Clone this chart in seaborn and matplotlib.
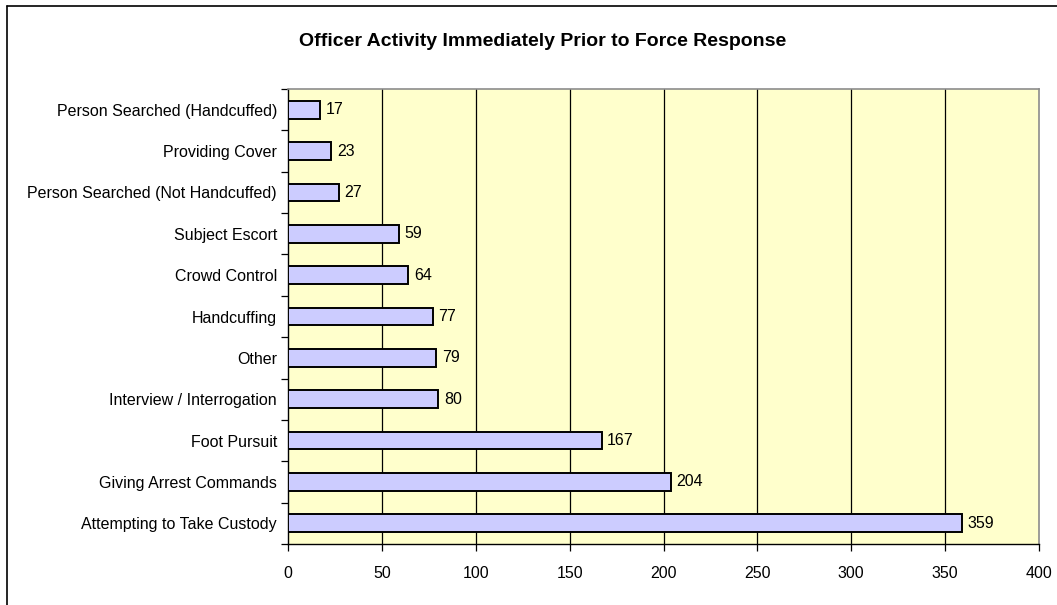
import matplotlib
matplotlib.use("Agg")
import matplotlib.pyplot as plt
import seaborn as sns

# Data (top to bottom)
activities = [
    "Person Searched (Handcuffed)",
    "Providing Cover",
    "Person Searched (Not Handcuffed)",
    "Subject Escort",
    "Crowd Control",
    "Handcuffing",
    "Other",
    "Interview / Interrogation",
    "Foot Pursuit",
    "Giving Arrest Commands",
    "Attempting to Take Custody",
]
counts = [17, 23, 27, 59, 64, 77, 79, 80, 167, 204, 359]
x_ticks = [0, 50, 100, 150, 200, 250, 300, 350, 400]

sns.set_style("white")
plt.rcParams["font.family"] = ["Liberation Sans", "DejaVu Sans"]
plt.rcParams["text.color"] = "black"
plt.rcParams["xtick.labelcolor"] = "black"
plt.rcParams["ytick.labelcolor"] = "black"

fig = plt.figure(figsize=(10.57, 6.05), dpi=100)
ax = fig.add_axes([288 / 1057, 61 / 605, 751 / 1057, 455 / 605])
ax.set_facecolor("#FFFFCC")

sns.barplot(
    x=counts,
    y=activities,
    orient="h",
    color="#CCCCFF",
    saturation=1,
    edgecolor="black",
    linewidth=1.4,
    width=0.43,
    ax=ax,
    zorder=3,
)

# value labels
for i, v in enumerate(counts):
    ax.text(v + 3, i, str(v), va="center", ha="left", fontsize=11.5, zorder=4)

ax.set_xlim(0, 400)
ax.set_ylim(len(activities) - 0.5, -0.5)
ax.set_xticks(x_ticks)
ax.set_xticklabels([str(t) for t in x_ticks], fontsize=11.5)
for t in x_ticks[1:-1]:
    ax.axvline(t, color="black", linewidth=0.9, zorder=1)

# category ticks sit between bars, like Excel
ax.set_yticks(range(len(activities)))
ax.set_yticklabels(activities, fontsize=11.5)
ax.set_yticks([i - 0.5 for i in range(len(activities) + 1)], minor=True)
ax.tick_params(axis="y", which="major", length=0, pad=8)
ax.tick_params(axis="y", which="minor", length=5, width=0.9, color="black", left=True)
ax.tick_params(axis="x", length=5, width=0.9, color="black", bottom=True, pad=11)
ax.set_xlabel("")
ax.set_ylabel("")

for side in ["left", "bottom"]:
    ax.spines[side].set_color("black")
    ax.spines[side].set_linewidth(1.0)
for side in ["top", "right"]:
    ax.spines[side].set_color("#8c8c8c")
    ax.spines[side].set_linewidth(1.2)

fig.text(0.513, 1 - 41 / 605, "Officer Activity Immediately Prior to Force Response",
         ha="center", va="center", fontsize=14, fontweight="bold")

# outer chart border (left and top edges visible)
fig.add_artist(plt.Line2D([7 / 1057, 7 / 1057], [0, 1 - 6 / 605], color="black", linewidth=1.2))
fig.add_artist(plt.Line2D([7 / 1057, 1], [1 - 6 / 605, 1 - 6 / 605], color="black", linewidth=1.2))

plt.savefig("out.png", dpi=100)
